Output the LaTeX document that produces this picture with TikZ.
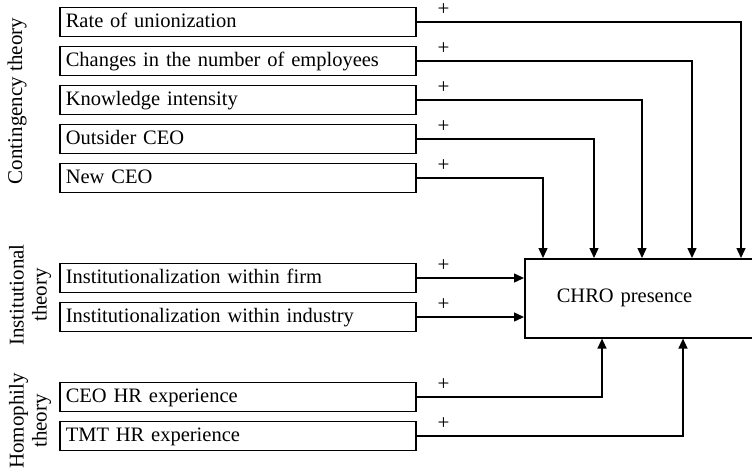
\documentclass[tikz,border=0pt]{standalone}
\usepackage{fontspec}
\setmainfont{Liberation Serif}
\usetikzlibrary{arrows.meta}
\begin{document}
\begin{tikzpicture}[x=1pt,y=-1pt,
  box/.style={draw, line width=1.6pt, anchor=west, align=left, text width=344pt,
    inner xsep=6pt, inner ysep=0pt, minimum height=29pt, text height=14pt, text depth=4pt,
    font=\fontsize{20.5}{24}\selectfont},
  arr/.style={line width=1.4pt, -{Triangle[length=10pt,width=9pt]}},
  plus/.style={font=\fontsize{21}{24}\selectfont, inner sep=0pt},
  theory/.style={rotate=90, align=center, inner sep=0pt, font=\fontsize{21}{23}\selectfont}]
\useasboundingbox (0,0) rectangle (752,472);
% left group labels
\node[theory] (tc) at (17,101) {Contingency theory};
\node[theory] (ti) at (30,295) {Institutional\\theory};
\node[theory] (th) at (30,421) {Homophily\\theory};
% boxes
\node[box] (r1) at (59,22) {Rate of unionization};
\node[box] (r2) at (59,61) {Changes in the number of employees};
\node[box] (r3) at (59,100) {Knowledge intensity};
\node[box] (r4) at (59,139) {Outsider CEO};
\node[box] (r5) at (59,178) {New CEO};
\node[box] (i1) at (59,278) {Institutionalization within firm};
\node[box] (i2) at (59,317) {Institutionalization within industry};
\node[box] (h1) at (59,397) {CEO HR experience};
\node[box] (h2) at (59,436) {TMT HR experience};
% outcome
\node[draw, line width=1.6pt, anchor=north west, minimum height=79pt, text width=170pt,
  inner xsep=32pt, align=left, font=\fontsize{20.5}{24}\selectfont] (chro) at (524,258) {CHRO presence};
% connectors
\draw[arr] (r1.east) -| ([xshift=217pt]chro.north west);
\draw[arr] (r2.east) -| ([xshift=168pt]chro.north west);
\draw[arr] (r3.east) -| ([xshift=118pt]chro.north west);
\draw[arr] (r4.east) -| ([xshift=70pt]chro.north west);
\draw[arr] (r5.east) -| ([xshift=19pt]chro.north west);
\draw[arr] (i1.east) -- (i1.east -| chro.west);
\draw[arr] (i2.east) -- (i2.east -| chro.west);
\draw[arr] (h1.east) -| ([xshift=78pt]chro.south west);
\draw[arr] (h2.east) -| ([xshift=159pt]chro.south west);
% plus signs
\foreach \n in {r1,r2,r3,r4,r5,i1,i2,h1,h2}
  \node[plus] (p\n) at ([xshift=27pt,yshift=12pt]\n.east) {+};
\end{tikzpicture}
\end{document}
